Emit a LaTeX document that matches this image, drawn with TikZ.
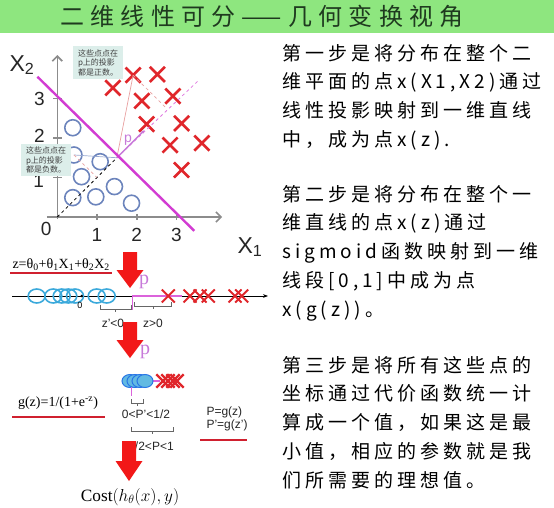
\documentclass[tikz,border=0pt]{standalone}
\usepackage{fontspec}
\setmainfont{Liberation Serif}
\setsansfont{Liberation Sans}
\newfontfamily\cjk[LetterSpace=21]{Noto Sans CJK SC}
\newfontfamily\cjktitle[LetterSpace=26]{Noto Sans CJK SC}
\newfontfamily\cjktiny{Noto Sans CJK SC}
\usepackage{tikz}
\usetikzlibrary{positioning,arrows.meta,shapes.misc,shapes.geometric}
\definecolor{bar}{HTML}{8EE67F}
\definecolor{titletxt}{HTML}{1F3A1F}
\definecolor{ptblue}{HTML}{6C84BC}
\definecolor{xred}{HTML}{E0262B}
\definecolor{sepline}{HTML}{D23CD2}
\definecolor{projpink}{HTML}{E8A0A0}
\definecolor{notebg}{HTML}{DCEEEA}
\definecolor{axisgray}{HTML}{8C8C8C}
\definecolor{zcyan}{HTML}{3BA9DB}
\definecolor{arrowred}{HTML}{F21818}
\definecolor{ulred}{HTML}{D0202F}
\definecolor{pvio}{HTML}{C779D9}

\begin{document}
\begin{tikzpicture}[x=1pt, y=-1pt,
  para/.style={anchor=north west, align=left, inner sep=0pt, font=\cjk\fontsize{19}{28.7}\selectfont},
  axis/.style={draw=axisgray, line width=1.6pt},
  ticklab/.style={font=\sffamily\fontsize{19}{19}\selectfont, text=black!85},
  bluec/.style={circle, draw=ptblue, line width=1.6pt, minimum size=16pt, inner sep=0pt},
  redx/.style={cross out, draw=xred, line width=2.6pt, minimum size=12.5pt, inner sep=0pt},
  note/.style={fill=notebg, align=left, inner xsep=5pt, inner ysep=3pt, text=black!75, font=\cjktiny\fontsize{8}{9.5}\selectfont},
  cyanc/.style={ellipse, draw=zcyan, line width=1.6pt, minimum width=17pt, minimum height=14pt, inner sep=0pt},
  cyanfill/.style={ellipse, draw=zcyan!70!blue, fill=zcyan!80, line width=1pt, minimum width=16pt, minimum height=13pt, inner sep=0pt},
  downarrow/.pic={\fill[arrowred] (-7,-#1) -- (7,-#1) -- (7,0) -- (13.5,0) -- (0,#1) -- (-13.5,0) -- (-7,0) -- cycle;},
  brk/.style={draw=black!60, line width=0.6pt},
  lab/.style={font=\sffamily\fontsize{12}{13}\selectfont, text=black!85},
  uline/.style={draw=ulred, line width=2.4pt}]
\useasboundingbox (0,0) rectangle (554,508);
\fill[bar] (0,0) rectangle (554,33);
\node[font=\cjktitle\fontsize{24}{24}\selectfont, text=titletxt] (title) at (262,16) {二维线性可分——几何变换视角};

\node[para] (s1) at (282,44) {第一步是将分布在整个二\\维平面的点x(X1,X2)通过\\线性投影映射到一维直线\\中，成为点x(z).};
\node[para] (s2) at (282,185) {第二步是将分布在整个一\\维直线的点x(z)通过\\sigmoid函数映射到一维\\线段[0,1]中成为点\\x(g(z))。};
\node[para] (s3) at (282,356) {第三步是将所有这些点的\\坐标通过代价函数统一计\\算成一个值，如果这是最\\小值，相应的参数就是我\\们所需要的理想值。};

\begin{scope}[shift={(57.3,217)}, x=39.7pt, y=39.5pt]
\draw[axis, -{Straight Barb[length=5pt]}] (-0.26,0) -- (4.15,0);
\draw[axis, -{Straight Barb[length=5pt]}] (0,-0.05) -- (0,4.1);
\foreach \t in {1,2,3} {
  \draw[axis] (\t,0.08) -- (\t,-0.08);
  \draw[axis] (-0.1,\t) -- (0.12,\t);
  \node[ticklab] (tx\t) at (\t,-0.45) {\t};
}
\node[ticklab] (ty3) at (-0.45,3) {3};
\node[ticklab] (ty2) at (-0.45,2.05) {2};
\node[ticklab] (ty1) at (-0.47,0.92) {1};
\node[ticklab] (t0) at (-0.28,-0.3) {0};
\coordinate (o) at (1.5,1.5);
\foreach \x/\y [count=\i] in {0.39/2.26, 0.42/1.57, 1.08/1.40, 0.61/1.02, 1.44/0.77, 0.39/0.49, 0.97/0.51, 1.87/0.35}
  \node[bluec] (c\i) at (\x,\y) {};
\foreach \x/\y [count=\i] in {1.91/3.59, 2.52/3.61, 1.40/3.27, 2.13/2.94, 2.91/3.06, 2.25/2.35, 3.13/2.37, 2.84/1.82, 3.64/1.87, 3.13/1.19}
  \node[redx] (x\i) at (\x,\y) {};
\coordinate (f1) at (2.75,2.75);
\coordinate (f2) at (1.0,1.0);
\coordinate (pend) at (3.55,3.45);
\draw[black, dashed, line width=0.8pt] (0,0) -- (o);
\draw[sepline!70, dashed, line width=0.8pt] (o) -- (pend);
\draw[projpink, line width=0.7pt] (x1.center) -- (o);
\draw[projpink, dashed, line width=0.7pt] (x1.center) -- (f1);
\draw[ptblue!70, line width=0.7pt] (c2.center) -- (o);
\draw[projpink, dashed, line width=0.7pt] (c2.center) -- (f2);
\draw[pvio, line width=1.4pt, -{Stealth[length=4pt]}] (o) -- (2.2,2.2);
\node[font=\sffamily\fontsize{14}{14}\selectfont, text=pvio] (plab) at (1.78,1.95) {p};
\draw[sepline, line width=2.4pt] (-0.5,3.55) -- (3.45,-0.35);
\end{scope}
\node[ticklab, font=\sffamily\fontsize{23}{23}\selectfont] (xlab2) at (22,65) {X\textsubscript{2}};
\node[ticklab, font=\sffamily\fontsize{23}{23}\selectfont] (xlab1) at (250,247) {X\textsubscript{1}};
\node[note] (n1) at (98,62.5) {这些点点在\\p上的投影\\都是正数。};
\node[note] (n2) at (46,160) {这些点点在\\p上的投影\\都是负数。};

\node[anchor=west, font=\fontsize{14}{14}\selectfont] (zf) at (9,265) {z=θ\textsubscript{0}+θ\textsubscript{1}X\textsubscript{1}+θ\textsubscript{2}X\textsubscript{2}};
\draw[uline] (10,273) -- (112,273);
\coordinate (nlA) at (12,296);
\coordinate (nlB) at (268,296);
\draw[line width=0.8pt, -{Stealth[length=5pt]}] (nlA) -- (nlB);
\foreach \x [count=\i] in {36.7,53.3,61.7,68.3,75,96.7,106.7}
  \node[cyanc] (e\i) at (\x,296) {};
\fill (81.7,296) circle (1.4pt);
\node[font=\sffamily\fontsize{9}{9}\selectfont] (zero1) at (80,305) {0};
\draw[sepline!80, line width=1.1pt] (132,296) -- (182,296);
\foreach \x [count=\i] in {168.3,190,200,208.3,235,241.7}
  \node[redx, minimum size=11pt, line width=2pt] (r\i) at (\x,296) {};
\node[font=\fontsize{20}{20}\selectfont, text=pvio] (p1) at (144,282) {p};
\draw[sepline!80, line width=1pt] (132.7,297) -- (132.7,310);
\draw[brk] (100,305) -- (100,309) -- (131.5,309) -- (131.5,305);
\draw[brk] (115.7,309) -- (115.7,312);
\draw[brk] (134,302) -- (134,306) -- (171.7,306) -- (171.7,302);
\draw[brk] (152.8,306) -- (152.8,309);
\node[lab] (zneg) at (113,323) {z'<0};
\node[lab] (zpos) at (153,323) {z>0};

\node[font=\fontsize{20}{20}\selectfont, text=pvio] (p2) at (145,352) {p};
\draw[sepline!80, line width=1pt] (130.7,349) -- (130.7,357);
\draw[sepline!80, line width=1.1pt] (148,381) -- (160,381);
\foreach \x [count=\i] in {130,135,140,145}
  \node[cyanfill] (g\i) at (\x,381) {};
\foreach \x [count=\i] in {163,168,173,177}
  \node[redx, minimum size=11pt, line width=2.4pt] (h\i) at (\x,381) {};
\draw[sepline!80, line width=1pt] (131.7,387) -- (131.7,396);
\draw[brk] (131.7,399) -- (131.7,403) -- (143.3,403) -- (143.3,399);
\draw[brk] (137.5,403) -- (137.5,406);
\node[lab] (pneg) at (146,414) {0<P'<1/2};
\draw[brk] (131.7,427) -- (131.7,431) -- (173.3,431) -- (173.3,427);
\draw[brk] (152.5,431) -- (152.5,434);
\node[lab] (ppos) at (151,446) {1/2<P<1};
\node[font=\fontsize{14}{14}\selectfont] (gf) at (58,403) {g(z)=1/(1+e\textsuperscript{-z})};
\draw[uline] (12,417) -- (105,417);
\node[lab, anchor=west, align=left] (pg) at (203,419) {P=g(z)\\P'=g(z')};
\draw[uline] (200,440) -- (247,440);
\node (cost) at (130,497) {\fontsize{17.28}{18}\selectfont $\mathrm{Cost}(h_\theta(x),y)$};

\pic (a1) at (130,270) {downarrow=18};
\pic (a2) at (130,340) {downarrow=18};
\pic (a3) at (129,461) {downarrow=20};
\end{tikzpicture}
\end{document}
